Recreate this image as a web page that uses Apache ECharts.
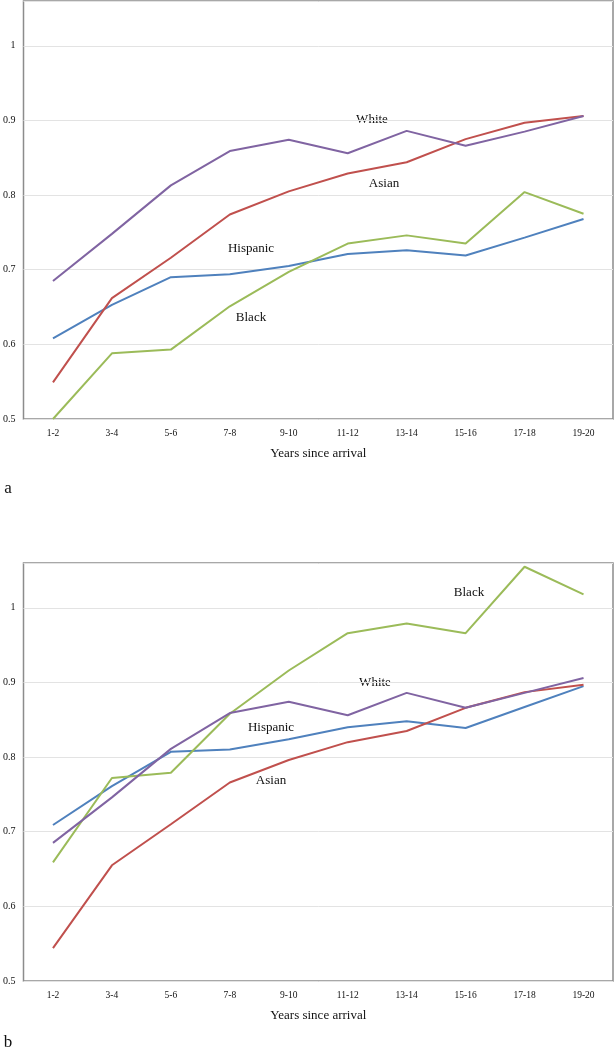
<!DOCTYPE html>
<html>
<head>
<meta charset="utf-8">
<script src="https://cdn.jsdelivr.net/npm/echarts@6/dist/echarts.min.js"></script>
<style>html,body{margin:0;padding:0;background:#fff}#c{width:615px;height:1050px}</style>
</head>
<body>
<div id="c"></div>
<script>
var categories = ['1-2','3-4','5-6','7-8','9-10','11-12','13-14','15-16','17-18','19-20'];
var yTicks = [0.5, 0.6, 0.7, 0.8, 0.9, 1];

// Panel a
var aWhite    = [0.685, 0.748, 0.813, 0.859, 0.874, 0.856, 0.886, 0.866, 0.885, 0.906];
var aAsian    = [0.549, 0.662, 0.716, 0.774, 0.805, 0.829, 0.844, 0.875, 0.897, 0.906];
var aBlack    = [0.500, 0.588, 0.593, 0.651, 0.697, 0.735, 0.746, 0.735, 0.804, 0.775];
var aHispanic = [0.608, 0.653, 0.690, 0.694, 0.705, 0.721, 0.726, 0.719, 0.743, 0.768];

// Panel b
var bWhite    = [0.685, 0.746, 0.811, 0.859, 0.874, 0.856, 0.886, 0.866, 0.886, 0.906];
var bAsian    = [0.544, 0.655, 0.710, 0.766, 0.796, 0.820, 0.835, 0.866, 0.887, 0.897];
var bBlack    = [0.659, 0.772, 0.779, 0.858, 0.916, 0.966, 0.979, 0.966, 1.055, 1.018];
var bHispanic = [0.709, 0.761, 0.807, 0.810, 0.824, 0.840, 0.848, 0.839, 0.867, 0.895];

var colors = {White:'#8064A2', Asian:'#C0504D', Black:'#9BBB59', Hispanic:'#4F81BD'};
var serif = '"Liberation Serif", "DejaVu Serif", serif';

function grid(top){ return {left:21, width:592, top:top, height:418, show:true, borderColor:'#8c8c8c', borderWidth:1.5, backgroundColor:'transparent'}; }
function xAxis(i){
  return {type:'category', gridIndex:i, data:categories, boundaryGap:true,
    axisLine:{show:false}, axisTick:{show:false},
    axisLabel:{color:'#111', fontFamily:serif, fontSize:9.5, margin:9, interval:0},
    name:'Years since arrival', nameLocation:'middle', nameGap:28,
    nameTextStyle:{color:'#111', fontFamily:serif, fontSize:13}};
}
function yAxis(i){
  return {type:'value', gridIndex:i, min:0.5, max:1.06, interval:0.1,
    axisLine:{show:false}, axisTick:{show:false},
    axisLabel:{color:'#111', fontFamily:serif, fontSize:10, margin:8, showMaxLabel:false,
      formatter:function(v){ for (var k=0;k<yTicks.length;k++){ if (Math.abs(v-yTicks[k])<1e-6) return String(yTicks[k]); } return ''; }},
    splitLine:{show:true, lineStyle:{color:'#e3e3e3', width:1}}};
}
function line(name, data, i){
  return {name:name, type:'line', xAxisIndex:i, yAxisIndex:i, data:data, symbol:'none',
    lineStyle:{color:colors[name], width:2}, itemStyle:{color:colors[name]}, animation:false};
}
function lbl(s, x, y, size){
  return {type:'text', x:x, y:y, style:{text:s, fill:'#111', font:(size||13)+'px "Liberation Serif", serif', align:'center', verticalAlign:'middle'}};
}

var chart = echarts.init(document.getElementById('c'), null, {renderer:'canvas'});
chart.setOption({
  animation:false,
  backgroundColor:'#fff',
  grid:[grid(1), grid(563)],
  xAxis:[xAxis(0), xAxis(1)],
  yAxis:[yAxis(0), yAxis(1)],
  series:[
    line('Hispanic', aHispanic, 0), line('Black', aBlack, 0), line('Asian', aAsian, 0), line('White', aWhite, 0),
    line('Hispanic', bHispanic, 1), line('Black', bBlack, 1), line('Asian', bAsian, 1), line('White', bWhite, 1)
  ],
  graphic:[
    lbl('White', 372, 120), lbl('Asian', 384, 184), lbl('Hispanic', 251, 249), lbl('Black', 251, 318),
    lbl('Black', 469, 593), lbl('White', 375, 683), lbl('Hispanic', 271, 728), lbl('Asian', 271, 781),
    lbl('a', 8, 489, 17), lbl('b', 8, 1043, 17)
  ]
});
</script>
</body>
</html>
